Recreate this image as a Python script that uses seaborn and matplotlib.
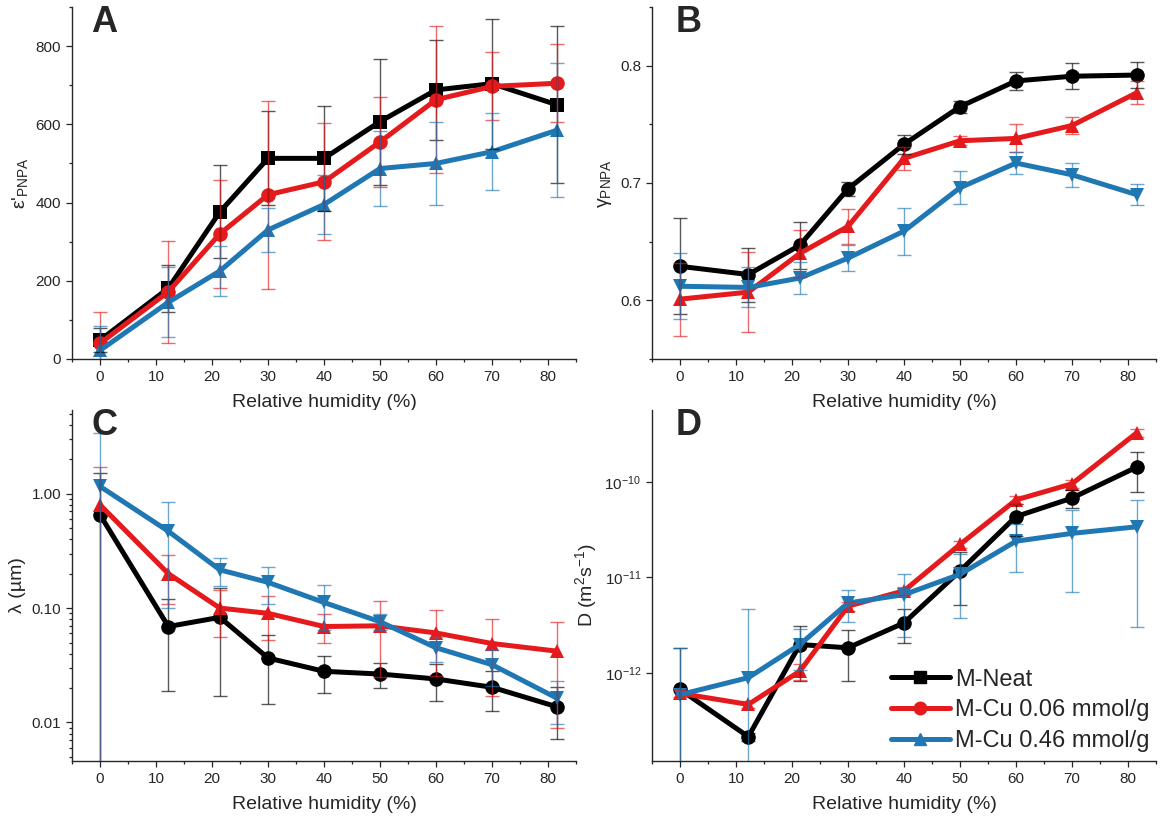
import numpy as np
import pandas as pd
import matplotlib
matplotlib.use("Agg")
import matplotlib.pyplot as plt
import matplotlib.ticker as mticker
from matplotlib.lines import Line2D
import seaborn as sns

# relative humidity (%) of the measurements
rh = [0, 12.2, 21.4, 30, 40, 50, 60, 70, 81.6]
samples = ["M-Neat", "M-Cu 0.06 mmol/g", "M-Cu 0.46 mmol/g"]

# A: epsilon'_PNPA
eps_neat = [48, 181, 376, 513, 513, 607, 688, 704, 650]
eps_neat_err = [30, 60, 119, 120, 135, 161, 127, 166, 201]
eps_cu06 = [40, 172, 320, 420, 453, 555, 663, 697, 705]
eps_cu06_err = [80, 130, 138, 240, 150, 115, 188, 87, 100]
eps_cu46 = [22, 145, 225, 330, 395, 487, 500, 530, 585]
eps_cu46_err = [62, 90, 63, 57, 75, 97, 107, 98, 172]

# B: gamma_PNPA
gam_neat = [0.629, 0.622, 0.647, 0.695, 0.733, 0.765, 0.787, 0.791, 0.792]
gam_neat_err = [0.041, 0.023, 0.020, 0.006, 0.008, 0.005, 0.008, 0.011, 0.011]
gam_cu06 = [0.601, 0.607, 0.640, 0.663, 0.721, 0.736, 0.738, 0.749, 0.777]
gam_cu06_err = [0.031, 0.034, 0.020, 0.015, 0.010, 0.004, 0.012, 0.007, 0.010]
gam_cu46 = [0.612, 0.611, 0.619, 0.636, 0.659, 0.696, 0.717, 0.707, 0.690]
gam_cu46_err = [0.028, 0.017, 0.014, 0.011, 0.020, 0.014, 0.009, 0.010, 0.009]

# C: lambda (um)
lam_neat = [0.655, 0.069, 0.083, 0.0366, 0.028, 0.0265, 0.024, 0.0203, 0.0137]
lam_neat_err = [0.85, 0.05, 0.066, 0.022, 0.010, 0.0065, 0.0085, 0.0078, 0.0066]
lam_cu06 = [0.80, 0.20, 0.100, 0.090, 0.069, 0.070, 0.0606, 0.049, 0.042]
lam_cu06_err = [0.91, 0.092, 0.044, 0.037, 0.019, 0.045, 0.035, 0.032, 0.033]
lam_cu46 = [1.16, 0.47, 0.216, 0.168, 0.112, 0.076, 0.045, 0.032, 0.0163]
lam_cu46_err = [2.27, 0.37, 0.06, 0.06, 0.048, 0.012, 0.011, 0.011, 0.0067]

# D: diffusion coefficient (m2/s)
dif_neat = [6.7e-13, 2.14e-13, 1.98e-12, 1.83e-12, 3.34e-12, 1.17e-11, 4.35e-11, 6.8e-11, 1.44e-10]
dif_neat_err = [1.16e-12, 2e-14, 1.15e-12, 1.0e-12, 1.3e-12, 6.6e-12, 1.6e-11, 1.4e-11, 6.5e-11]
dif_cu06 = [6.1e-13, 4.66e-13, 1.04e-12, 5.0e-12, 7.25e-12, 2.22e-11, 6.5e-11, 9.6e-11, 3.3e-10]
dif_cu06_err = [5e-14, 4e-14, 2e-13, 5e-13, 7e-13, 2e-12, 6e-12, 9e-12, 3e-11]
dif_cu46 = [5.9e-13, 8.9e-13, 1.98e-12, 5.4e-12, 6.6e-12, 1.08e-11, 2.4e-11, 2.9e-11, 3.4e-11]
dif_cu46_err = [1.24e-12, 3.8e-12, 0.9e-12, 2e-12, 4.2e-12, 7e-12, 1.26e-11, 2.2e-11, 3.1e-11]

colors = {"M-Neat": "#000000", "M-Cu 0.06 mmol/g": "#E41A1C", "M-Cu 0.46 mmol/g": "#1F77B4"}

sns.set_style("ticks")
plt.rcParams["font.family"] = ["Liberation Sans", "DejaVu Sans"]
plt.rcParams["mathtext.fontset"] = "custom"
plt.rcParams["mathtext.rm"] = "Liberation Sans"
plt.rcParams["mathtext.it"] = "Liberation Sans:italic"
plt.rcParams["mathtext.bf"] = "Liberation Sans:bold"
plt.rcParams["axes.linewidth"] = 1.0
plt.rcParams["xtick.major.width"] = 0.9
plt.rcParams["ytick.major.width"] = 0.9
plt.rcParams["xtick.minor.width"] = 0.9
plt.rcParams["ytick.minor.width"] = 0.9
plt.rcParams["xtick.major.size"] = 4.3
plt.rcParams["ytick.major.size"] = 4.3
plt.rcParams["xtick.minor.size"] = 2.5
plt.rcParams["ytick.minor.size"] = 2.5

fig = plt.figure(figsize=(11.61, 8.27), dpi=100)
W, H = 1161, 827


def add_ax(x0, x1, y0, y1):
    return fig.add_axes([x0 / W, 1 - y1 / H, (x1 - x0) / W, (y1 - y0) / H])


axA = add_ax(72, 576, 7, 359)
axB = add_ax(652, 1156, 7, 359)
axC = add_ax(72, 576, 410, 761)
axD = add_ax(652, 1156, 410, 761)


def draw_panel(ax, vals, errs, markers):
    df = pd.DataFrame({
        "rh": rh * 3,
        "value": vals[0] + vals[1] + vals[2],
        "sample": np.repeat(samples, len(rh)),
    })
    sns.lineplot(data=df, x="rh", y="value", hue="sample", style="sample",
                 hue_order=samples, style_order=samples, palette=colors,
                 markers=dict(zip(samples, markers)), dashes=False, sort=False,
                 linewidth=3.6, markersize=10.5, markeredgewidth=0,
                 legend=False, ax=ax, zorder=2)
    for name, v, e in zip(samples, vals, errs):
        ax.errorbar(rh, v, yerr=e, fmt="none", ecolor=colors[name], alpha=0.65,
                    elinewidth=1.0, capsize=5.2, capthick=1.0, zorder=3)
    ax.set_xlim(-5, 85)
    ax.xaxis.set_major_locator(mticker.FixedLocator(range(0, 81, 10)))
    ax.xaxis.set_minor_locator(mticker.MultipleLocator(5))
    ax.set_xlabel("Relative humidity (%)", fontsize=14, labelpad=7)
    ax.tick_params(axis="both", which="both", direction="out", labelsize=11)
    sns.despine(ax=ax)


draw_panel(axA, [eps_neat, eps_cu06, eps_cu46], [eps_neat_err, eps_cu06_err, eps_cu46_err], ["s", "o", "^"])
axA.set_ylim(0, 900)
axA.yaxis.set_major_locator(mticker.MultipleLocator(200))
axA.yaxis.set_minor_locator(mticker.MultipleLocator(100))
axA.set_ylabel("ε'$_{\\mathrm{PNPA}}$", fontsize=14)

draw_panel(axB, [gam_neat, gam_cu06, gam_cu46], [gam_neat_err, gam_cu06_err, gam_cu46_err], ["o", "^", "v"])
axB.set_ylim(0.55, 0.85)
axB.yaxis.set_major_locator(mticker.FixedLocator([0.6, 0.7, 0.8]))
axB.yaxis.set_minor_locator(mticker.FixedLocator([0.55, 0.65, 0.75, 0.85]))
axB.yaxis.set_major_formatter(mticker.FormatStrFormatter("%.1f"))
axB.set_ylabel(r"$\mathrm{γ}_{\mathrm{PNPA}}$", fontsize=14)

draw_panel(axC, [lam_neat, lam_cu06, lam_cu46], [lam_neat_err, lam_cu06_err, lam_cu46_err], ["o", "^", "v"])
axC.set_yscale("log")
axC.set_ylim(0.0046, 5.4)
axC.yaxis.set_major_locator(mticker.FixedLocator([0.01, 0.1, 1.0]))
axC.yaxis.set_major_formatter(mticker.FuncFormatter(lambda v, p: f"{v:.2f}"))
axC.yaxis.set_minor_locator(mticker.LogLocator(base=10, subs=np.arange(2, 10)))
axC.yaxis.set_minor_formatter(mticker.NullFormatter())
axC.set_ylabel("λ (µm)", fontsize=14)

draw_panel(axD, [dif_neat, dif_cu06, dif_cu46], [dif_neat_err, dif_cu06_err, dif_cu46_err], ["o", "^", "v"])
axD.set_yscale("log")
axD.set_ylim(1.19e-13, 5.7e-10)
axD.yaxis.set_major_locator(mticker.FixedLocator([1e-12, 1e-11, 1e-10]))
axD.yaxis.set_major_formatter(mticker.LogFormatterSciNotation())
axD.yaxis.set_minor_locator(mticker.NullLocator())
axD.set_ylabel(r"D (m$^{2}$s$^{-1}$)", fontsize=14)

for ax, letter, lx in [(axA, "A", 0.038), (axB, "B", 0.046), (axC, "C", 0.038), (axD, "D", 0.046)]:
    ax.text(lx, 1.005, letter, transform=ax.transAxes, ha="left", va="top",
            fontsize=26, fontweight="bold")

handles = [Line2D([], [], color=colors[s], marker=m, linewidth=3.6, markersize=9)
           for s, m in zip(samples, ["s", "o", "^"])]
axD.legend(handles, samples, loc="lower right", bbox_to_anchor=(0.988, 0.025),
           frameon=False, fontsize=17, handlelength=2.5, handletextpad=0.25,
           labelspacing=0.37, borderpad=0, borderaxespad=0)

fig.savefig("out.png", dpi=100)
